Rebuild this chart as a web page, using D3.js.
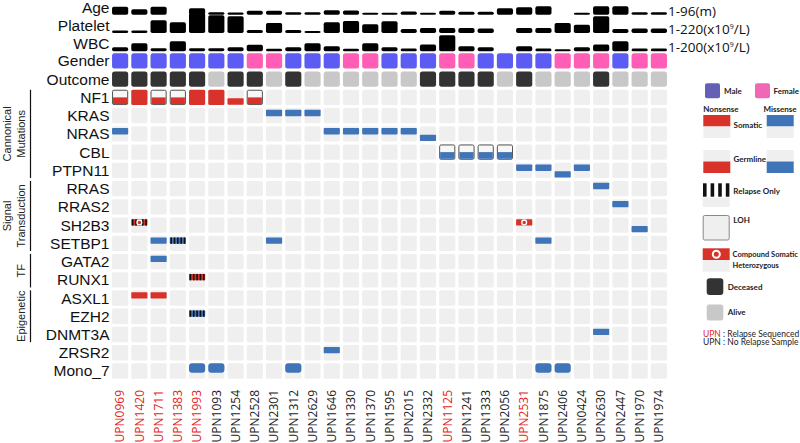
<!DOCTYPE html>
<html><head><meta charset="utf-8">
<script src="https://cdn.jsdelivr.net/npm/d3@7"></script>
<style>body{margin:0;background:#fff}svg{display:block}</style>
</head><body><svg id="c" width="800" height="443"></svg>
<script>
// ---------------- data ----------------
const samples = ["UPN0969","UPN1420","UPN1711","UPN1383","UPN1993","UPN1093","UPN1254","UPN2528","UPN2301","UPN1312","UPN2629","UPN1646","UPN1330","UPN1370","UPN1595","UPN2015","UPN2332","UPN1125","UPN1241","UPN1333","UPN2056","UPN2531","UPN1875","UPN2406","UPN0424","UPN2630","UPN2447","UPN1970","UPN1974"];
const relapseSequenced = ["UPN0969","UPN1420","UPN1711","UPN1383","UPN1993","UPN1125","UPN2531"];
const ageMonths = [34,21,34,null,26,5,4,13,13,5,5,16,15,3,3,9,3,13,8,8,26,31,36,null,3,36,36,5,5];
const plateletCount = [12,12,133,109,220,193,181,18,101,18,6,109,125,87,121,30,42,42,42,36,null,42,42,101,81,181,30,36,36];
const wbcCount = [27,70,16,92,16,16,27,54,11,27,70,38,11,70,27,13,56,157,38,27,null,38,13,5,27,56,92,13,13];
const gender = ["M","M","M","M","M","M","M","F","F","M","M","M","F","F","M","M","M","F","F","M","M","M","M","F","F","F","M","F","F"];
const outcome = ["D","D","D","D","D","A","D","D","A","D","A","A","A","A","A","A","D","D","D","D","A","D","A","A","A","D","A","A","A"];
const clinicalTracks = ["Age","Platelet","WBC"];
const trackMax = [96,220,200];
const trackRangeLabels = [["1-96(m)"],["1-220(x10","9","/L)"],["1-200(x10","9","/L)"]];
const annotationRows = ["Gender","Outcome"];
const genes = ["NF1","KRAS","NRAS","CBL","PTPN11","RRAS","RRAS2","SH2B3","SETBP1","GATA2","RUNX1","ASXL1","EZH2","DNMT3A","ZRSR2","Mono_7"];
const geneGroups = [
  {label:["Cannonical","Mutations"], from:"NF1", to:"PTPN11"},
  {label:["Signal","Transduction"], from:"RRAS", to:"SETBP1"},
  {label:["TF"], from:"GATA2", to:"RUNX1"},
  {label:["Epigenetic"], from:"ASXL1", to:"DNMT3A"}
];
// [gene, sample, class, origin, flags]
const mutations = [
  ["NF1","UPN0969","nonsense","germline","loh"],
  ["NF1","UPN1420","nonsense","both",""],
  ["NF1","UPN1711","nonsense","germline","loh"],
  ["NF1","UPN1383","nonsense","germline","loh"],
  ["NF1","UPN1993","nonsense","both",""],
  ["NF1","UPN1093","nonsense","both",""],
  ["NF1","UPN1254","nonsense","germline",""],
  ["NF1","UPN2528","nonsense","germline","loh"],
  ["KRAS","UPN2301","missense","somatic",""],
  ["KRAS","UPN1312","missense","somatic",""],
  ["KRAS","UPN2629","missense","somatic",""],
  ["NRAS","UPN0969","missense","somatic",""],
  ["NRAS","UPN1646","missense","somatic",""],
  ["NRAS","UPN1330","missense","somatic",""],
  ["NRAS","UPN1370","missense","somatic",""],
  ["NRAS","UPN1595","missense","somatic",""],
  ["NRAS","UPN2015","missense","somatic",""],
  ["NRAS","UPN2332","missense","germline",""],
  ["CBL","UPN1125","missense","germline","loh"],
  ["CBL","UPN1241","missense","germline","loh"],
  ["CBL","UPN1333","missense","germline","loh"],
  ["CBL","UPN2056","missense","germline","loh"],
  ["PTPN11","UPN2531","missense","somatic",""],
  ["PTPN11","UPN1875","missense","somatic",""],
  ["PTPN11","UPN2406","missense","germline",""],
  ["PTPN11","UPN0424","missense","somatic",""],
  ["RRAS","UPN2630","missense","somatic",""],
  ["RRAS2","UPN2447","missense","somatic",""],
  ["SH2B3","UPN1420","nonsense","somatic","compound relapse"],
  ["SH2B3","UPN2531","nonsense","somatic","compound"],
  ["SH2B3","UPN1970","missense","germline",""],
  ["SETBP1","UPN1711","missense","somatic",""],
  ["SETBP1","UPN1383","missense","somatic","relapse"],
  ["SETBP1","UPN2301","missense","somatic",""],
  ["SETBP1","UPN1875","missense","somatic",""],
  ["GATA2","UPN1711","missense","somatic",""],
  ["RUNX1","UPN1993","nonsense","somatic","relapse"],
  ["ASXL1","UPN1420","nonsense","somatic",""],
  ["ASXL1","UPN1711","nonsense","somatic",""],
  ["EZH2","UPN1993","missense","somatic","relapse"],
  ["DNMT3A","UPN2630","missense","somatic",""],
  ["ZRSR2","UPN1646","missense","somatic",""],
  ["Mono_7","UPN1993","monosomy","somatic",""],
  ["Mono_7","UPN1093","monosomy","somatic",""],
  ["Mono_7","UPN1312","monosomy","somatic",""],
  ["Mono_7","UPN1875","monosomy","somatic",""],
  ["Mono_7","UPN2406","monosomy","somatic",""]
];

// ---------------- style ----------------
const RED = "#d8322a", BLUE = "#3f74b8", GREY = "#efefef";
const MALE = "#5c5cf5", FEMALE = "#ff5db6", DEAD = "#333333", ALIVE = "#c8c8c8";
const LABEL_FONT = "'Liberation Sans', Arial, sans-serif";
const SAMPLE_FONT = "'Open Sans', sans-serif";
const LEG_FONT = "Lato, 'Open Sans', sans-serif";

const svg = d3.select("#c");
const rows = annotationRows.concat(genes);
const x = d3.scaleBand().domain(samples).range([110.5, 668.5]).paddingInner(0.16).paddingOuter(0.08);
const y = d3.scaleBand().domain(rows).range([51.8, 380.1]).paddingInner(0.16).paddingOuter(0.08);
const bw = x.bandwidth(), bh = y.bandwidth(), step = y.step();
const yTop0 = y("Gender");

// ---------------- clinical bar tracks ----------------
const trackData = [ageMonths, plateletCount, wbcCount];
clinicalTracks.forEach((name, i) => {
  const base = yTop0 - 2 - (2 - i) * step;
  const h = d3.scaleLinear().domain([0, trackMax[i]]).range([1.5, 20]);
  const g = svg.append("g");
  g.selectAll("rect").data(samples.map((s, j) => ({s, v: trackData[i][j]})).filter(d => d.v != null))
    .join("rect")
    .attr("x", d => x(d.s)).attr("width", bw)
    .attr("y", d => base - h(d.v)).attr("height", d => h(d.v))
    .attr("rx", 1.8).attr("fill", "#000");
  svg.append("text").attr("x", 109.5).attr("y", base - 2.4 + (i === 0 ? 0.4 : 0))
    .attr("text-anchor", "end").attr("font-family", LABEL_FONT).attr("font-size", 15.5).attr("fill", "#111")
    .text(name);
  const t = svg.append("text").attr("x", 668).attr("y", base + 1.2)
    .attr("font-family", SAMPLE_FONT).attr("font-size", 13.5).attr("fill", "#111");
  const parts = trackRangeLabels[i];
  t.append("tspan").text(parts[0]);
  if (parts.length > 1) {
    t.append("tspan").attr("font-size", 7).attr("dy", -5).text(parts[1]);
    t.append("tspan").attr("dy", 5).text(parts[2]);
  }
});

// ---------------- row labels ----------------
svg.append("g").selectAll("text").data(rows).join("text")
  .attr("x", 109.5).attr("y", d => y(d) + bh / 2 + 5.5)
  .attr("text-anchor", "end").attr("font-family", LABEL_FONT).attr("font-size", 15.5).attr("fill", "#111")
  .text(d => d);

// ---------------- annotation rows ----------------
svg.append("g").selectAll("rect").data(samples.map((s, j) => ({s, v: gender[j]}))).join("rect")
  .attr("x", d => x(d.s)).attr("y", y("Gender")).attr("width", bw).attr("height", bh).attr("rx", 2.5)
  .attr("fill", d => d.v === "M" ? MALE : FEMALE);
svg.append("g").selectAll("rect").data(samples.map((s, j) => ({s, v: outcome[j]}))).join("rect")
  .attr("x", d => x(d.s)).attr("y", y("Outcome")).attr("width", bw).attr("height", bh).attr("rx", 2.5)
  .attr("fill", d => d.v === "D" ? DEAD : ALIVE);

// ---------------- background grid ----------------
const cells = [];
genes.forEach(g => samples.forEach(s => cells.push({g, s})));
svg.append("g").selectAll("rect").data(cells).join("rect")
  .attr("x", d => x(d.s)).attr("y", d => y(d.g)).attr("width", bw).attr("height", bh).attr("rx", 1.5)
  .attr("fill", GREY);

// ---------------- mutation glyphs ----------------
const mg = svg.append("g");
function stripes(g, x0, y0, w, h) {
  const n = 5, sw = 1.6;
  for (let k = 0; k < n; k++) {
    g.append("rect").attr("x", x0 + 0.6 + k * (w - 1.2 - sw) / (n - 1)).attr("y", y0).attr("width", sw).attr("height", h).attr("fill", "#111");
  }
}
mutations.forEach(([gene, sample, cls, origin, flags]) => {
  const x0 = x(sample), top = y(gene);
  const col = cls === "nonsense" ? RED : BLUE;
  const f = flags.split(" ");
  if (cls === "monosomy") {
    mg.append("rect").attr("x", x0).attr("y", top).attr("width", bw).attr("height", bh * 0.62).attr("rx", 3).attr("fill", col);
    return;
  }
  if (f.includes("loh")) {
    mg.append("rect").attr("x", x0 + 0.5).attr("y", top + 0.5).attr("width", bw - 1).attr("height", bh - 1)
      .attr("rx", 1.5).attr("fill", "#f7f7f7").attr("stroke", "#555").attr("stroke-width", 1);
    mg.append("rect").attr("x", x0 + 1).attr("y", top + bh / 2).attr("width", bw - 2).attr("height", bh / 2 - 1).attr("fill", col);
    return;
  }
  let by, bhh;
  if (origin === "both") { by = top; bhh = bh; }
  else if (origin === "somatic") { by = top + 1.8; bhh = 6.4; }
  else { by = top + 8.6; bhh = 6.3; }
  mg.append("rect").attr("x", x0).attr("y", by).attr("width", bw).attr("height", bhh).attr("rx", origin === "both" ? 1.5 : 0.8).attr("fill", col);
  if (f.includes("relapse")) stripes(mg, x0, by, bw, bhh);
  if (f.includes("compound")) {
    mg.append("circle").attr("cx", x0 + bw / 2).attr("cy", by + bhh / 2).attr("r", 2.4)
      .attr("fill", f.includes("relapse") ? RED : "none").attr("stroke", "#fff").attr("stroke-width", 1.3);
  }
});

// ---------------- gene groups ----------------
geneGroups.forEach(gr => {
  const y1 = y(gr.from), y2 = y(gr.to) + bh;
  svg.append("line").attr("x1", 30.5).attr("x2", 30.5).attr("y1", y1).attr("y2", y2).attr("stroke", "#111").attr("stroke-width", 1.2);
  const cy = (y1 + y2) / 2;
  const xs = gr.label.length === 2 ? [10.5, 24.5] : [24.5];
  gr.label.forEach((t, k) => {
    svg.append("text").attr("transform", `translate(${xs[k]},${cy}) rotate(-90)`)
      .attr("text-anchor", "middle").attr("font-family", LABEL_FONT).attr("font-size", 11).attr("fill", "#222").text(t);
  });
});

// ---------------- sample labels ----------------
svg.append("g").selectAll("text").data(samples).join("text")
  .attr("transform", d => `translate(${x(d) + bw / 2 + 4.3},390) rotate(-90)`)
  .attr("text-anchor", "end").attr("font-family", SAMPLE_FONT).attr("font-size", 12)
  .attr("fill", d => relapseSequenced.includes(d) ? "#e3241c" : "#222")
  .text(d => d);

// ---------------- legend ----------------
const L = svg.append("g").attr("font-family", LEG_FONT).attr("font-weight", 700).attr("font-size", 8).attr("fill", "#222");
function lrect(xx, yy, w, h, fill, rx) { return L.append("rect").attr("x", xx).attr("y", yy).attr("width", w).attr("height", h).attr("fill", fill).attr("rx", rx || 0); }
function ltext(xx, yy, t) { return L.append("text").attr("x", xx).attr("y", yy).text(t); }
lrect(705, 83.3, 15, 15, "#6360b6", 2); ltext(724, 93.5, "Male");
lrect(755, 83.3, 15, 15, "#f067b5", 2); ltext(773.5, 93.5, "Female");
ltext(703.3, 111.5, "Nonsense"); ltext(763.5, 111.5, "Missense");
lrect(703.3, 115, 27, 11.5, RED); lrect(703.3, 126.5, 27, 11.5, GREY);
lrect(766.7, 115, 27, 11.5, BLUE); lrect(766.7, 126.5, 27, 11.5, GREY);
ltext(733.5, 127.5, "Somatic");
lrect(703.3, 150, 27, 11.5, GREY); lrect(703.3, 161.5, 27, 11.5, RED);
lrect(766.7, 150, 27, 11.5, GREY); lrect(766.7, 161.5, 27, 11.5, BLUE);
ltext(733.5, 162, "Germline");
[0, 1, 2, 3].forEach(k => lrect(703 + k * 7.6, 183.3, 3.6, 13.4, "#111"));
lrect(702.7, 197.5, 27, 9.5, GREY);
ltext(733.3, 193.5, "Relapse Only");
L.append("rect").attr("x", 703.2).attr("y", 215.5).attr("width", 26).attr("height", 24.5).attr("rx", 1.5)
  .attr("fill", GREY).attr("stroke", "#888").attr("stroke-width", 1);
ltext(733.3, 223, "LOH");
lrect(702.7, 248.3, 27, 11.7, RED); lrect(702.7, 260, 27, 11.7, GREY);
L.append("circle").attr("cx", 716.3).attr("cy", 254.2).attr("r", 3.5).attr("fill", "none").attr("stroke", "#fff").attr("stroke-width", 2);
ltext(732.5, 257.2, "Compound Somatic").attr("font-size", 7.5);
ltext(732.5, 268, "Heterozygous").attr("font-size", 7.5);
lrect(706.7, 278.3, 16.6, 16.6, DEAD, 3); ltext(727.7, 289.7, "Deceased");
lrect(706.7, 304.5, 16.6, 16, ALIVE, 2.5); ltext(727.7, 315, "Alive");
const t1 = L.append("text").attr("x", 703).attr("y", 336.5).attr("font-weight", 400).attr("font-size", 8.5);
t1.append("tspan").attr("fill", "#e3241c").text("UPN");
t1.append("tspan").text(" : Relapse Sequenced");
L.append("text").attr("x", 703).attr("y", 345.3).attr("font-weight", 400).attr("font-size", 8.5)
  .text("UPN : No Relapse Sample");
</script>
</body></html>
